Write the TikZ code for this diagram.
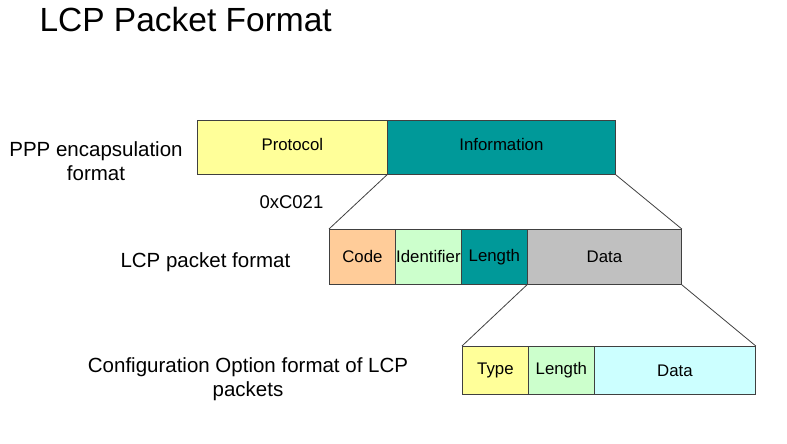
\documentclass[tikz,border=0pt]{standalone}
\usepackage{fontspec}
\setmainfont{Liberation Sans}
\usepackage{xcolor}
\definecolor{protoyellow}{HTML}{FFFF99}
\definecolor{infoteal}{HTML}{009999}
\definecolor{codepeach}{HTML}{FFCC99}
\definecolor{idgreen}{HTML}{CCFFCC}
\definecolor{datagray}{HTML}{C0C0C0}
\definecolor{optcyan}{HTML}{CCFFFF}
\definecolor{edgegray}{HTML}{404040}
\usetikzlibrary{calc}

\tikzset{
	field/.style={draw=edgegray, line width=0.8pt, inner sep=0pt, anchor=north west,
		font=\fontsize{16.8}{20}\selectfont},
	rowlabel/.style={font=\fontsize{20.5}{23.5}\selectfont},
	zoomline/.style={draw=edgegray, line width=0.8pt}
}

\begin{document}
\begin{tikzpicture}[x=1pt, y=-1pt]
					\useasboundingbox (0,0) rectangle (787,444);

					\node [anchor=base west, font=\fontsize{33.5}{40}\selectfont] (title) at (36,32) {LCP Packet Format};

					% PPP encapsulation
					\node [field, fill=protoyellow, minimum width=190pt, minimum height=54pt, text depth=6pt] (proto) at (197,120) {Protocol};
					\node [field, fill=infoteal, minimum width=228pt, minimum height=54pt, text depth=6pt] (info) at (387,120) {Information};
					\node [rowlabel, align=center] (ppplabel) at (96,161) {PPP encapsulation\\format};
					\node [anchor=base west, font=\fontsize{18.5}{22}\selectfont] (protoval) at (256,208) {0xC021};

					% LCP packet
					\node [field, fill=codepeach, minimum width=66pt, minimum height=55pt] (code) at (329,229) {Code};
					\node [field, fill=idgreen, minimum width=66pt, minimum height=55pt] (ident) at (395,229) {Identifier};
					\node [field, fill=infoteal, minimum width=66pt, minimum height=55pt] (len) at (461,229) {Length};
					\node [field, fill=datagray, minimum width=154pt, minimum height=55pt] (data) at (527,229) {Data};
					\node [rowlabel, anchor=base west] (lcplabel) at (117,267) {LCP packet format};

					% configuration option
					\node [field, fill=protoyellow, minimum width=66pt, minimum height=48pt] (otype) at (462,346) {Type};
					\node [field, fill=idgreen, minimum width=66pt, minimum height=48pt] (olen) at (528,346) {Length};
					\node [field, fill=optcyan, minimum width=161pt, minimum height=48pt] (odata) at (594,346) {Data};
					\node [rowlabel, align=center] (optlabel) at (248,379) {Configuration Option format of LCP\\packets};

					\draw [zoomline] (info.south west) -- (code.north west);
					\draw [zoomline] (info.south east) -- (data.north east);
					\draw [zoomline] (data.south west) -- (otype.north west);
					\draw [zoomline] (data.south east) -- (odata.north east);
				\end{tikzpicture}
\end{document}
